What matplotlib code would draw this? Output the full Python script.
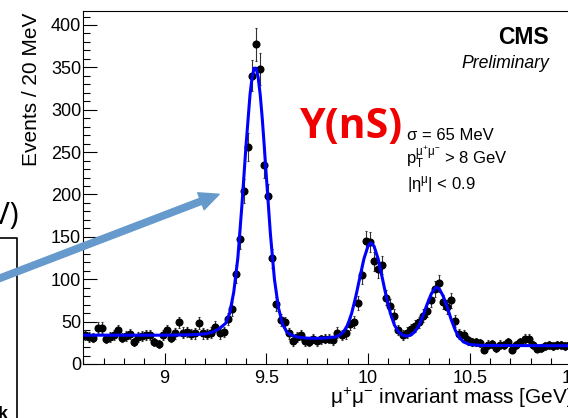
import numpy as np
import matplotlib.pyplot as plt
from matplotlib.lines import Line2D
from matplotlib.patches import FancyArrowPatch
from matplotlib.ticker import MultipleLocator, FuncFormatter

plt.rcParams['font.family'] = 'Liberation Sans'
plt.rcParams['mathtext.fontset'] = 'custom'
plt.rcParams['mathtext.rm'] = 'Liberation Sans'
plt.rcParams['mathtext.it'] = 'Liberation Sans:italic'
plt.rcParams['mathtext.bf'] = 'Liberation Sans:bold'

# dimuon mass histogram, 20 MeV bins from 8.6 to 11 GeV (bin centres)
mass = np.round(np.arange(8.61, 11.0, 0.02), 2)
events = [34, 32, 31, 43, 43, 30, 32, 34, 40, 31,
          33, 35, 26, 32, 33, 34, 34, 26, 24, 34,
          40, 31, 36, 49, 37, 38, 35, 36, 48, 36,
          35, 37, 44, 36, 38, 53, 65, 106, 148, 204,
          256, 340, 377, 348, 235, 198, 125, 71, 52, 49,
          36, 27, 32, 34, 27, 26, 30, 27, 29, 30,
          30, 28, 37, 34, 36, 47, 50, 72, 105, 145,
          144, 121, 112, 117, 78, 68, 57, 40, 34, 37,
          41, 45, 49, 57, 63, 76, 89, 95, 73, 67,
          75, 51, 35, 34, 28, 26, 26, 25, 17, 23,
          24, 19, 23, 22, 26, 17, 22, 26, 30, 30,
          22, 18, 19, 21, 22, 21, 22, 22, 21, 22]

# fitted curve
fit_mass = [8.60, 8.80, 9.00, 9.10, 9.16, 9.20, 9.24, 9.27, 9.30, 9.32,
            9.34, 9.36, 9.38, 9.40, 9.42, 9.43, 9.44, 9.45, 9.46, 9.47,
            9.48, 9.49, 9.50, 9.52, 9.54, 9.56, 9.58, 9.60, 9.62, 9.65,
            9.70, 9.75, 9.80, 9.84, 9.86, 9.88, 9.90, 9.92, 9.94, 9.96,
            9.98, 10.00, 10.015, 10.03, 10.05, 10.07, 10.09, 10.11, 10.13, 10.15,
            10.17, 10.19, 10.21, 10.23, 10.25, 10.27, 10.29, 10.31, 10.33, 10.34,
            10.35, 10.37, 10.39, 10.41, 10.43, 10.45, 10.47, 10.50, 10.55, 10.70,
            11.00]
fit_events = [34, 34, 34, 34.3, 34.8, 35.5, 38, 42, 48, 60,
              85, 125, 187, 257, 318, 338, 349, 349, 338, 318,
              290, 257, 222, 154, 100, 66, 47, 38, 34.5, 32,
              30.5, 30.3, 30.8, 32, 34, 38, 46, 60, 79.5, 102,
              124, 139, 143, 139, 124, 102, 79.5, 60, 46, 38,
              34, 33, 34, 38, 45, 56.5, 70, 82, 89.6, 90.3,
              89, 80, 67, 52, 39.5, 31, 26, 23, 22, 21.8,
              21.5]

W, H = 568, 418
fig = plt.figure(figsize=(W / 100, H / 100), dpi=100)
ax = fig.add_axes([83.3 / W, (H - 364) / H, 488 / W, 353 / H])

ax.errorbar(mass, events, yerr=np.sqrt(events), fmt='o', color='black',
            ecolor='#333333', ms=4.8, elinewidth=0.8, capsize=1, capthick=0.8, zorder=2)
ax.plot(fit_mass, fit_events, color='#0000ff', lw=2.2, zorder=3)

ax.set_xlim(8.6, 11)
ax.set_ylim(0, 416.5)
ax.xaxis.set_major_locator(MultipleLocator(0.5))
ax.xaxis.set_minor_locator(MultipleLocator(0.1))
ax.yaxis.set_major_locator(MultipleLocator(50))
ax.yaxis.set_minor_locator(MultipleLocator(10))
ax.xaxis.set_major_formatter(FuncFormatter(lambda v, _: f'{v:g}'))
ax.tick_params(which='both', direction='in', top=False, right=False, labelsize=13, width=0.8)
ax.tick_params(axis='y', which='major', length=10, pad=1.5)
ax.tick_params(axis='y', which='minor', length=5)
ax.tick_params(axis='x', which='major', length=8, pad=4)
ax.tick_params(axis='x', which='minor', length=4)
for s in ax.spines.values():
    s.set_linewidth(0.8)

fig.text(32 / W, 1 - 13 / H, 'Events / 20 MeV', rotation=90, ha='center', va='top', fontsize=15)
fig.text(330 / W, 1 - 404 / H, r'$\mathrm{\mu^{+}\mu^{-}}$ invariant mass [GeV]',
         ha='left', va='baseline', fontsize=15)

fig.text(549 / W, 1 - 44.3 / H, 'CMS', weight='bold', fontsize=16.5, ha='right', va='baseline')
fig.text(549 / W, 1 - 68.3 / H, 'Preliminary', style='italic', fontsize=12.7, ha='right', va='baseline')

fig.text(300 / W, 1 - 138.5 / H, 'Υ(nS)', color='#f00000', family='Open Sans', weight='bold',
         fontsize=29.5, ha='left', va='baseline')
fig.text(407 / W, 1 - 140 / H, 'σ = 65 MeV', fontsize=12, va='baseline')
fig.text(405.7 / W, 1 - 163.3 / H, r'$\mathrm{p_{T}^{\mu^{+}\mu^{-}}}$ > 8 GeV', fontsize=12, va='baseline')
fig.text(406.7 / W, 1 - 189.3 / H, r'|$\mathrm{\eta^{\mu}}$| < 0.9', fontsize=12, va='baseline')

# pieces of the slide around the plot
fig.text(19 / W, 1 - 224 / H, '(GeV)', ha='right', va='baseline', fontsize=22, family='Open Sans')
fig.add_artist(Line2D([-0.01, 17.3 / W, 17.3 / W], [1 - 238.3 / H, 1 - 238.3 / H, -0.01],
                      transform=fig.transFigure, color='black', lw=1.2))
fig.text(7.5 / W, 1 - 419 / H, 'k', weight='bold', ha='right', va='baseline', fontsize=13)

arrow = FancyArrowPatch((-10 / W, 1 - 282 / H), (221.7 / W, 1 - 193.3 / H),
                        transform=fig.transFigure, mutation_scale=1,
                        arrowstyle='simple,head_length=14,head_width=13,tail_width=4.6',
                        color='#6699cc', zorder=10)
fig.add_artist(arrow)

fig.savefig('out.png', dpi=100)
